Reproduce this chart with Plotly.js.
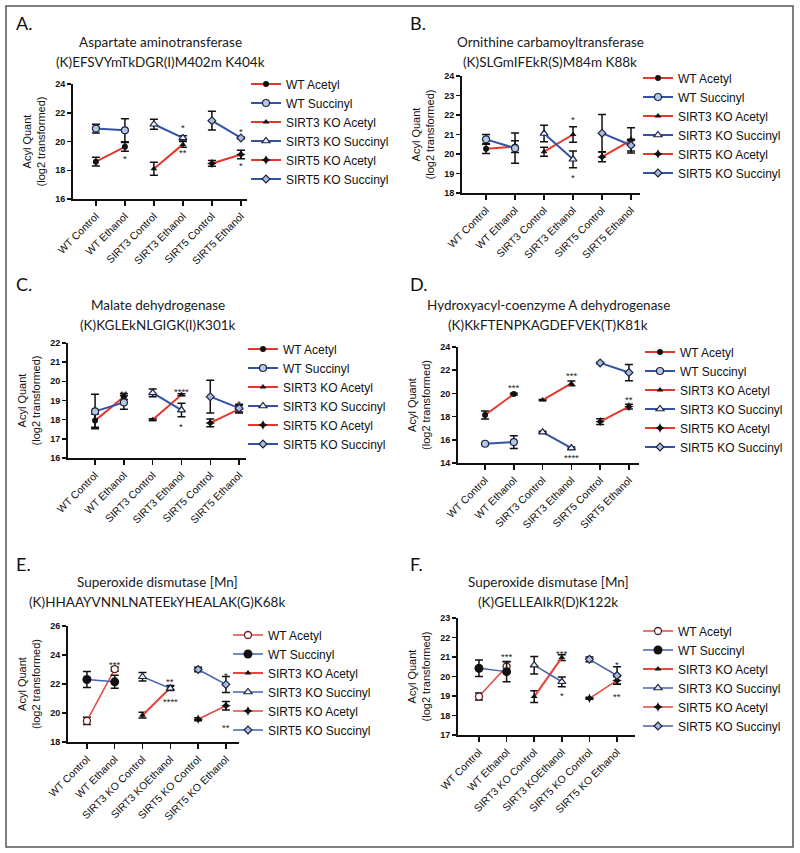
<!DOCTYPE html>
<html>
<head>
<meta charset="utf-8">
<script src="https://cdn.plot.ly/plotly-3.0.1.min.js"></script>
<style>html,body{margin:0;padding:0;background:#fff;}#chart{width:800px;height:853px;}</style>
</head>
<body>
<div id="chart"></div>
<script>
// ---------- data ----------
const seriesNames = ['WT Acetyl','WT Succinyl','SIRT3 KO Acetyl','SIRT3 KO Succinyl','SIRT5 KO Acetyl','SIRT5 KO Succinyl'];
const catsAD = ['WT Control','WT Ethanol','SIRT3 Control','SIRT3 Ethanol','SIRT5 Control','SIRT5 Ethanol'];
const catsEF = ['WT Control','WT Ethanol','SIRT3 KO Control','SIRT3 KOEthanol','SIRT5 KO Control','SIRT5 KO Ethanol'];

// means [control, ethanol] per series (order = seriesNames)
const meanA = [[18.6,19.63],[20.9,20.78],[18.1,19.8],[21.2,20.25],[18.47,19.1],[21.45,20.25]];
const errA  = [[0.3,0.3],[0.3,0.8],[0.45,0.2],[0.35,0.15],[0.2,0.3],[0.65,0.05]];
const meanB = [[20.27,20.38],[20.75,20.3],[20.12,21.0],[21.05,19.73],[19.85,20.7],[21.07,20.45]];
const errB  = [[0.25,0.3],[0.25,0.78],[0.23,0.4],[0.42,0.43],[0.25,0.65],[0.95,0.3]];
const meanC = [[17.95,19.2],[18.43,18.9],[18.0,19.3],[19.4,18.5],[17.83,18.55],[19.2,18.6]];
const errC  = [[0.35,0.15],[0.9,0.35],[0.05,0.05],[0.2,0.35],[0.2,0.2],[0.85,0.2]];
const meanD = [[18.14,19.94],[15.66,15.8],[19.43,20.86],[16.66,15.29],[17.57,18.86],[22.63,21.8]];
const errD  = [[0.35,0.08],[0.08,0.55],[0.05,0.2],[0.08,0.1],[0.25,0.2],[0.05,0.7]];
const meanE = [[19.45,23.03],[22.31,22.15],[19.85,21.74],[22.5,21.7],[19.57,20.5],[23.0,21.97]];
const errE  = [[0.25,0.15],[0.55,0.45],[0.2,0.15],[0.3,0.15],[0.1,0.3],[0.15,0.55]];
const meanF = [[18.97,20.51],[20.42,20.25],[18.97,20.97],[20.58,19.73],[18.88,19.8],[20.88,20.05]];
const errF  = [[0.18,0.25],[0.42,0.52],[0.3,0.15],[0.45,0.25],[0.05,0.2],[0.12,0.45]];

// significance marks [category, y, text]
const sigA = [['WT Ethanol',18.95,'*'],['SIRT3 Ethanol',21.1,'*'],['SIRT3 Ethanol',19.35,'**'],['SIRT5 Ethanol',20.85,'*'],['SIRT5 Ethanol',18.5,'*']];
const sigB = [['SIRT3 Ethanol',21.85,'*'],['SIRT3 Ethanol',18.9,'*']];
const sigC = [['WT Ethanol',19.45,'**'],['SIRT3 Ethanol',19.55,'****'],['SIRT3 Ethanol',17.75,'*'],['SIRT5 Ethanol',18.95,'*']];
const sigD = [['WT Ethanol',20.65,'***'],['SIRT3 Ethanol',21.75,'***'],['SIRT3 Ethanol',14.65,'****'],['SIRT5 Ethanol',19.65,'**']];
const sigE = [['WT Ethanol',23.5,'***'],['SIRT3 KOEthanol',22.3,'**'],['SIRT3 KOEthanol',20.9,'****'],['SIRT5 KO Ethanol',22.7,'*'],['SIRT5 KO Ethanol',19.15,'**']];
const sigF = [['WT Ethanol',21.15,'***'],['SIRT3 KOEthanol',21.3,'***'],['SIRT3 KOEthanol',19.15,'*'],['SIRT5 KO Ethanol',20.7,'*'],['SIRT5 KO Ethanol',19.1,'**']];

const titleA = ['Aspartate aminotransferase','(K)EFSVYmTkDGR(I)M402m K404k'];
const titleB = ['Ornithine carbamoyltransferase','(K)SLGmIFEkR(S)M84m K88k'];
const titleC = ['Malate dehydrogenase','(K)KGLEkNLGIGK(I)K301k'];
const titleD = ['Hydroxyacyl-coenzyme A dehydrogenase','(K)KkFTENPKAGDEFVEK(T)K81k'];
const titleE = ['Superoxide dismutase [Mn]','(K)HHAAYVNNLNATEEkYHEALAK(G)K68k'];
const titleF = ['Superoxide dismutase [Mn]','(K)GELLEAIkR(D)K122k'];
const yTitle = 'Acyl Quant<br>(log2 transformed)';

// ---------- layout geometry (pixels) ----------
const W = 800, H = 853;
const px = v => v / W, py = v => 1 - v / H;

const panels = [
  {letter:'A.', lx:14, ly:23, cats:catsAD, mean:meanA, err:errA, sig:sigA, title:titleA, tx:160, ty:42,
   x0:73, x1:247, yt:84, yb:199, xr:[-0.79,5.21], yr:[16,24], dt:2, legX:286, legY:84, ef:false},
  {letter:'B.', lx:408, ly:23, cats:catsAD, mean:meanB, err:errB, sig:sigB, title:titleB, tx:550, ty:42,
   x0:462, x1:640, yt:76, yb:193, xr:[-0.83,5.31], yr:[18,24], dt:1, legX:678, legY:78, ef:false},
  {letter:'C.', lx:14, ly:284, cats:catsAD, mean:meanC, err:errC, sig:sigC, title:titleC, tx:158, ty:305,
   x0:68, x1:246, yt:343, yb:458, xr:[-0.94,5.24], yr:[16,22], dt:1, legX:283, legY:349, ef:false},
  {letter:'D.', lx:408, ly:284, cats:catsAD, mean:meanD, err:errD, sig:sigD, title:titleD, tx:548, ty:305,
   x0:458, x1:639, yt:347, yb:463, xr:[-0.94,5.35], yr:[14,24], dt:2, legX:680, legY:352, ef:false},
  {letter:'E.', lx:14, ly:564, cats:catsEF, mean:meanE, err:errE, sig:sigE, title:titleE, tx:157, ty:582,
   x0:68, x1:239, yt:626, yb:742, xr:[-0.68,5.47], yr:[18,26], dt:2, legX:268, legY:635, ef:true},
  {letter:'F.', lx:408, ly:564, cats:catsEF, mean:meanF, err:errF, sig:sigF, title:titleF, tx:548, ty:582,
   x0:458, x1:635, yt:618, yb:735, xr:[-0.76,5.65], yr:[17,23], dt:1, legX:678, legY:631, ef:true}
];

const RED = '#e5372b', BLUE = '#3452a4', RED2 = '#e04a3f', BLUE2 = '#4561b0';
const OUT = '#1b2440';
function markerFor(i, ef) {
  const m = [
    ef ? {symbol:'circle', size:7, color:'#ffffff', line:{color:'#5a2020', width:1.3}}
       : {symbol:'circle', size:6, color:'#111'},
    ef ? {symbol:'circle', size:9, color:'#111'}
       : {symbol:'circle', size:7, color:'#b7c8e4', line:{color:OUT, width:1.2}},
    {symbol:'triangle-up', size:6, color:'#111'},
    {symbol:'triangle-up', size:7, color:'#eef2fa', line:{color:OUT, width:1.2}},
    {symbol:'star-diamond', size:7, color:'#111'},
    {symbol:'diamond', size:6, color:'#a9bcdc', line:{color:OUT, width:1.2}}
  ];
  return m[i];
}

const AX = 'Liberation Sans, Arial, sans-serif';
const TF = 'Lato, Open Sans, sans-serif';
const traces = [];
const layout = {
  width: W, height: H, margin:{l:0,r:0,t:0,b:0},
  paper_bgcolor:'#fff', plot_bgcolor:'#fff', showlegend:true,
  annotations: [], shapes: [],
  font:{family:AX, color:'#111'}
};

layout.shapes.push({type:'rect', xref:'paper', yref:'paper', x0:px(6), x1:px(793), y0:py(847), y1:py(6),
  line:{color:'#555', width:1.5}, fillcolor:'rgba(0,0,0,0)'});

panels.forEach((p, k) => {
  const n = k + 1;
  const xa = 'xaxis' + (n === 1 ? '' : n), ya = 'yaxis' + (n === 1 ? '' : n);
  const xs = 'x' + (n === 1 ? '' : n), ys = 'y' + (n === 1 ? '' : n);
  const lg = 'legend' + (n === 1 ? '' : n);
  layout[xa] = {
    domain:[px(p.x0), px(p.x1)], anchor:ys, type:'category', categoryarray:p.cats, categoryorder:'array',
    range:p.xr, showline:true, linecolor:'#111', linewidth:2, ticks:'outside', ticklen:5, tickwidth:1.5,
    tickcolor:'#111', tickangle:-45, tickfont:{family:AX, size:10.5, color:'#111'},
    showgrid:false, zeroline:false, fixedrange:true
  };
  layout[ya] = {
    domain:[py(p.yb), py(p.yt)], anchor:xs, range:p.yr, tickmode:'linear', tick0:p.yr[0], dtick:p.dt,
    showline:true, linecolor:'#111', linewidth:2, ticks:'outside', ticklen:4, tickwidth:1.5, tickcolor:'#111',
    tickfont:{family:AX, size:9, color:'#111', weight:'bold'},
    showgrid:false, zeroline:false, fixedrange:true,
    title:{text:yTitle, font:{family:AX, size:11, color:'#111'}, standoff:7}
  };
  layout[lg] = {
    x:px(p.legX - 40), y:py(p.legY - 14.5), xanchor:'left', yanchor:'top',
    font:{family:AX, size:12, color:'#111'}, bgcolor:'rgba(0,0,0,0)', borderwidth:0, itemwidth:30
  };
  const lw = p.ef ? 1.5 : 2;
  seriesNames.forEach((name, i) => {
    const g = Math.floor(i / 2);
    const acetyl = i % 2 === 0;
    traces.push({
      type:'scatter', mode:'lines+markers', name:name, legend:lg,
      x:[p.cats[2*g], p.cats[2*g+1]], y:p.mean[i], xaxis:xs, yaxis:ys,
      line:{color: acetyl ? (p.ef ? RED2 : RED) : (p.ef ? BLUE2 : BLUE), width: (p.ef && i === 2) ? 2.2 : lw},
      marker:markerFor(i, p.ef),
      error_y:{type:'data', array:p.err[i], visible:true, color:'#111', thickness:1.5, width:4},
      hoverinfo:'skip'
    });
  });
  p.sig.forEach(s => {
    layout.annotations.push({xref:xs, yref:ys, x:s[0], y:s[1], text:s[2], showarrow:false,
      font:{family:AX, size:9.5, color:'#222'}, yshift:-2});
  });
  layout.annotations.push({xref:'paper', yref:'paper', x:px(p.lx), y:py(p.ly), xanchor:'left', yanchor:'middle',
    text:p.letter, showarrow:false, font:{family:TF, size:18, color:'#111'}});
  layout.annotations.push({xref:'paper', yref:'paper', x:px(p.tx), y:py(p.ty), xanchor:'center', yanchor:'middle',
    text:p.title[0], showarrow:false, font:{family:TF, size:13.5, color:'#1a1a1a'}});
  layout.annotations.push({xref:'paper', yref:'paper', x:px(p.tx), y:py(p.ty + 20), xanchor:'center', yanchor:'middle',
    text:p.title[1], showarrow:false, font:{family:TF, size:13.5, color:'#1a1a1a'}});
});

Plotly.newPlot('chart', traces, layout, {staticPlot:true, displayModeBar:false});
</script>
</body>
</html>
